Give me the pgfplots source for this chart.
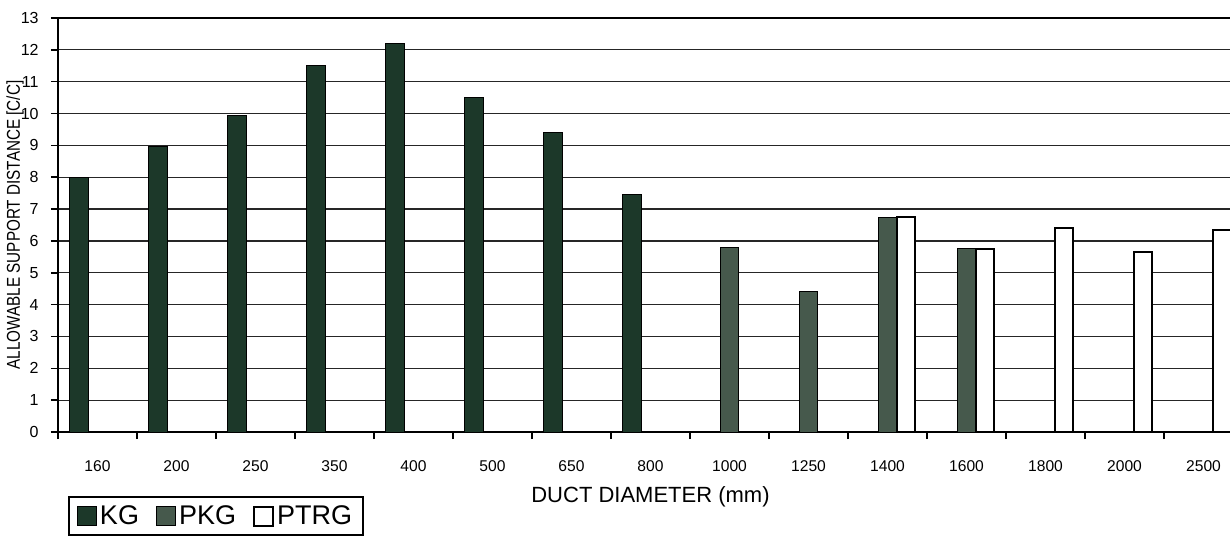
\documentclass[border=0pt]{standalone}
\usepackage{fontspec}
\setmainfont{Liberation Sans}
\newfontfamily\narrowfont[FakeStretch=0.82]{Liberation Sans}
\usepackage{pgfplots}
\pgfplotsset{compat=1.18}
\definecolor{kg}{HTML}{1C3829}
\definecolor{pkg}{HTML}{46594C}
\begin{document}
\begin{tikzpicture}
\begin{axis}[
  scale only axis,
  width=592.5pt, height=207pt,
  xmin=-0.5, xmax=14.5, ymin=0, ymax=13,
  xtick={-0.5,0.5,...,13.5},
  xticklabels={160,200,250,350,400,500,650,800,1000,1250,1400,1600,1800,2000,2500},
  ytick={0,...,13},
  xtick pos=left, ytick pos=left,
  tick align=outside,
  major tick length=3.5pt,
  tick style={draw=black, line width=0.8pt},
  axis line style={line width=1pt},
  ymajorgrids,
  grid style={black!85, line width=0.6pt},
  /pgf/number format/assume math mode=true,
  xticklabel style={font=\fontsize{7.8}{9}\selectfont, anchor=center, xshift=19.75pt, yshift=-13.5pt},
  yticklabel style={font=\fontsize{8}{9}\selectfont, anchor=east, inner sep=0pt, xshift=-6pt},
  xlabel={DUCT DIAMETER (mm)},
  xlabel style={font=\fontsize{11}{13}\selectfont, at={(axis description cs:0.5,-0.157)}, anchor=center},
  ylabel={ALLOWABLE SUPPORT DISTANCE [C/C]},
  ylabel style={font=\narrowfont\fontsize{9.3}{10}\selectfont, at={(axis description cs:-0.0363,0.5)}, anchor=center},
  legend columns=3,
  legend style={at={(axis description cs:0.00844,-0.155)}, anchor=north west, draw=black, line width=1pt,
    font=\fontsize{13.5}{15}\selectfont, inner xsep=4pt, inner ysep=2.5pt,
    nodes={inner sep=1.5pt},
    /tikz/every even column/.append style={column sep=7pt}},
]
\addplot[ybar, bar width=0.235, bar shift=-0.235, fill=kg, draw=black, line width=0.5pt,
  legend image code/.code={\draw[fill=kg,draw=black,line width=0.5pt] (0pt,-4.75pt) rectangle (9.5pt,4.75pt);}]
  coordinates {(0,8.0) (1,8.95) (2,9.95) (3,11.5) (4,12.2) (5,10.5) (6,9.4) (7,7.45)};
\addlegendentry{KG}
\addplot[ybar, bar width=0.235, bar shift=0, fill=pkg, draw=black, line width=0.5pt,
  legend image code/.code={\draw[fill=pkg,draw=black,line width=0.5pt] (0pt,-4.75pt) rectangle (9.5pt,4.75pt);}]
  coordinates {(8,5.8) (9,4.4) (10,6.75) (11,5.75)};
\addlegendentry{PKG}
\addplot[ybar, bar width=0.235, bar shift=0.235, fill=white, draw=black, line width=1pt,
  legend image code/.code={\draw[fill=white,draw=black,line width=1pt] (0pt,-4.75pt) rectangle (9.5pt,4.75pt);}]
  coordinates {(10,6.75) (11,5.75) (12,6.4) (13,5.65) (14,6.35)};
\addlegendentry{PTRG}
\end{axis}
\pgfresetboundingbox
\useasboundingbox (-29pt,-52.5pt) rectangle (586pt,216pt);
\end{tikzpicture}
\end{document}
